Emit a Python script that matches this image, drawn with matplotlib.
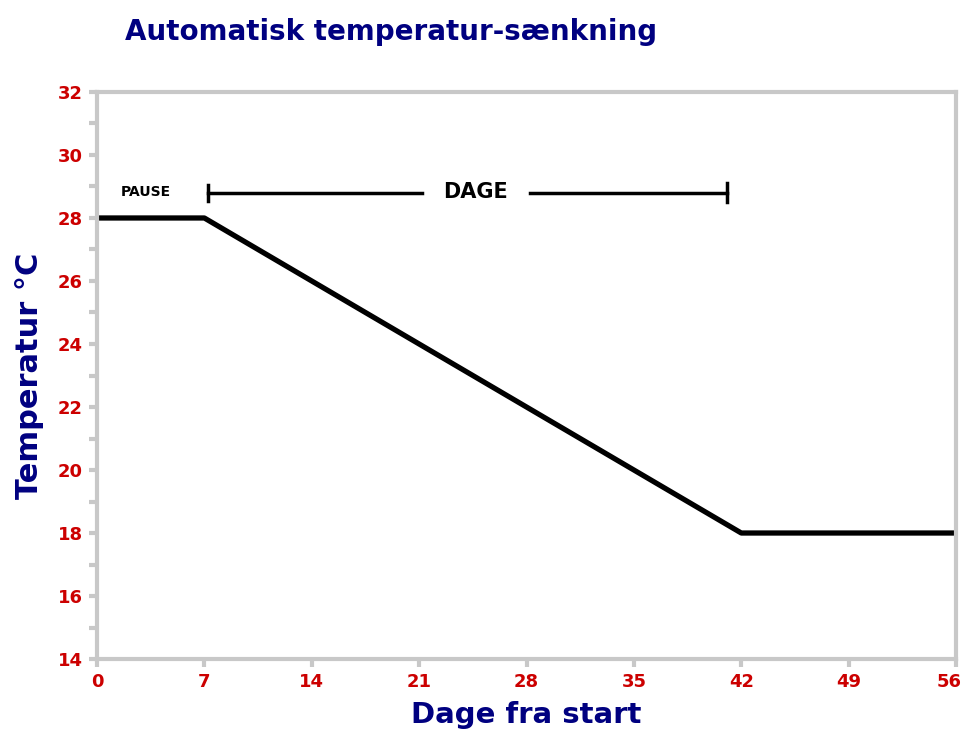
import matplotlib.pyplot as plt
from matplotlib.ticker import MultipleLocator
from matplotlib.transforms import ScaledTranslation

# Data
days = [0, 7, 42, 56]
temps = [28, 28, 18, 18]
x_ticks = list(range(0, 57, 7))
y_ticks = list(range(14, 33, 2))

navy = '#000080'
red = '#cc0000'
grey = '#c8c8c8'

fig = plt.figure(figsize=(9.65, 7.37), dpi=100)
ax = fig.add_axes([0.1005, 0.1058, 0.8902, 0.7694])

ax.plot(days, temps, color='black', linewidth=3.8, solid_capstyle='butt')

# Bracket for the "DAGE" period
ax.plot([7.25, 21.2], [28.8, 28.8], color='black', linewidth=2.5)
ax.plot([28.2, 41.1], [28.8, 28.8], color='black', linewidth=2.5)
ax.plot([7.25, 7.25], [28.55, 29.05], color='black', linewidth=2.5)
ax.plot([41.1, 41.1], [28.5, 29.1], color='black', linewidth=2.5)
ax.text(24.7, 28.83, 'DAGE', ha='center', va='center', fontsize=15,
        fontweight='bold', color='black')
ax.text(3.2, 28.83, 'PAUSE', ha='center', va='center', fontsize=10,
        fontweight='bold', color='black')

ax.set_xlim(0, 56)
ax.set_ylim(14, 32)
ax.set_xticks(x_ticks)
ax.set_yticks(y_ticks)
ax.yaxis.set_minor_locator(MultipleLocator(1))

for spine in ax.spines.values():
    spine.set_color(grey)
    spine.set_linewidth(3)

ax.tick_params(axis='both', which='both', color=grey, width=3, direction='out')
ax.tick_params(axis='both', which='major', length=6, labelsize=13,
               labelcolor=red, pad=4)
ax.tick_params(axis='y', which='minor', length=6)
for lbl in ax.get_xticklabels() + ax.get_yticklabels():
    lbl.set_fontweight('bold')

# keep the last x label inside the figure
last = ax.get_xticklabels()[-1]
last.set_transform(last.get_transform() + ScaledTranslation(-0.07, 0, fig.dpi_scale_trans))

ax.set_xlabel('Dage fra start', fontsize=21, fontweight='bold', color=navy,
              labelpad=7)
ax.set_ylabel('Temperatur °C', fontsize=22, fontweight='bold', color=navy,
              labelpad=10)
fig.text(0.13, 0.957, 'Automatisk temperatur-sænkning', fontsize=20,
         fontweight='bold', color=navy, ha='left', va='center')

fig.savefig('out.png', dpi=100)
